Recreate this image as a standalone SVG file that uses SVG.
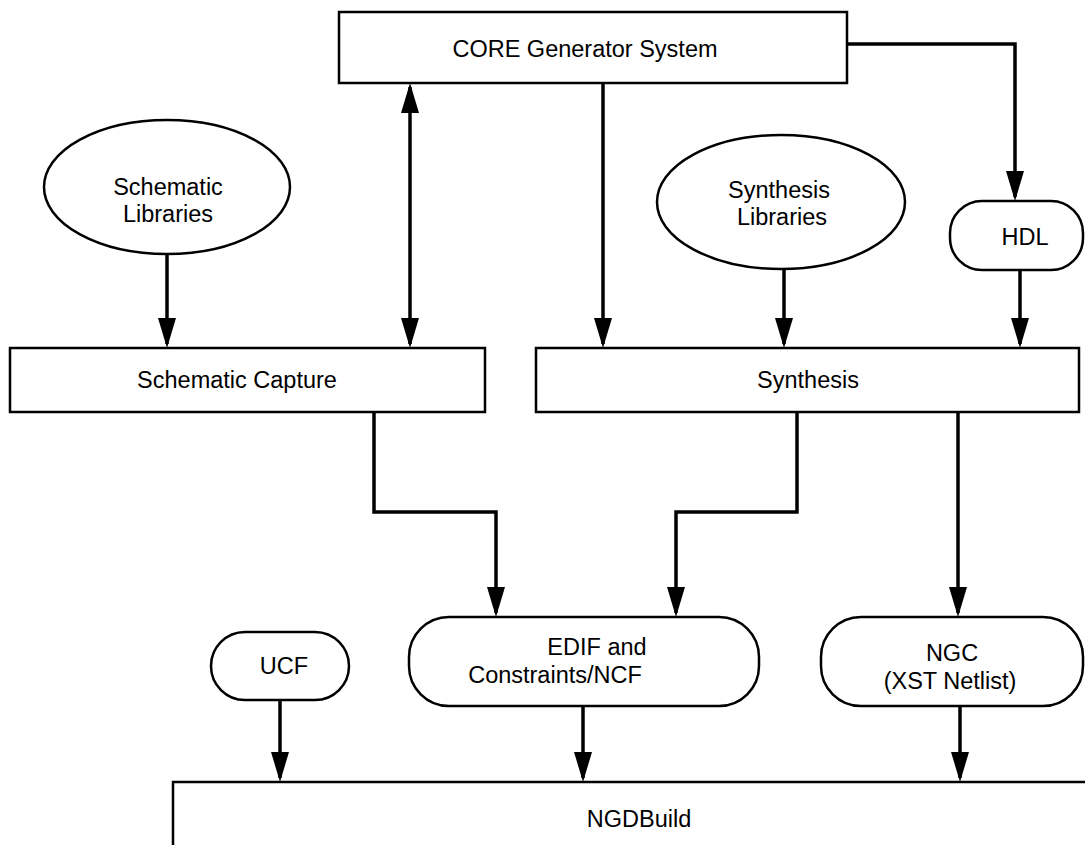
<svg xmlns="http://www.w3.org/2000/svg" width="1085" height="845" viewBox="0 0 1085 845">
<defs>
<style>
.box{fill:#fff;stroke:#000;stroke-width:2.5}
.t{font-family:"Liberation Sans",Arial,sans-serif;font-size:23.5px;fill:#000;text-anchor:middle}
.c{fill:none;stroke:#000;stroke-width:3.5}
</style>
<marker id="ah" markerUnits="userSpaceOnUse" viewBox="0 0 30 18" markerWidth="30" markerHeight="18" refX="26" refY="9" orient="auto-start-reverse">
<path d="M0,0 L30,9 L0,18 z" fill="#000"/>
</marker>
</defs>
<rect width="1085" height="845" fill="#fff"/>
<g id="connectors">
<path class="c" d="M167,255 V344" marker-end="url(#ah)"/>
<path class="c" d="M410,87 V344" marker-start="url(#ah)" marker-end="url(#ah)"/>
<path class="c" d="M603,83 V344" marker-end="url(#ah)"/>
<path class="c" d="M784,270 V344" marker-end="url(#ah)"/>
<path class="c" d="M847,44 H1015 V197" marker-end="url(#ah)"/>
<path class="c" d="M1020,270 V344" marker-end="url(#ah)"/>
<path class="c" d="M374,412 V512 H496 V613" marker-end="url(#ah)"/>
<path class="c" d="M797,412 V512 H676 V613" marker-end="url(#ah)"/>
<path class="c" d="M958,412 V613" marker-end="url(#ah)"/>
<path class="c" d="M280,700 V778" marker-end="url(#ah)"/>
<path class="c" d="M583,706 V778" marker-end="url(#ah)"/>
<path class="c" d="M960,706 V778" marker-end="url(#ah)"/>
</g>
<g id="core"><rect class="box" x="339" y="12" width="508" height="71"/><text class="t" x="585" y="57">CORE Generator System</text></g>
<g id="schlib"><ellipse class="box" cx="167" cy="187" rx="123" ry="67"/><text class="t" x="168" y="195">Schematic</text><text class="t" x="168" y="222">Libraries</text></g>
<g id="synlib"><ellipse class="box" cx="781" cy="202" rx="124" ry="67"/><text class="t" x="779" y="198">Synthesis</text><text class="t" x="782" y="225">Libraries</text></g>
<g id="hdl"><rect class="box" x="950" y="201" width="133" height="69" rx="32"/><text class="t" x="1025" y="245">HDL</text></g>
<g id="schcap"><rect class="box" x="10" y="348" width="475" height="64"/><text class="t" x="237" y="388">Schematic Capture</text></g>
<g id="synth"><rect class="box" x="536" y="348" width="543" height="64"/><text class="t" x="808" y="388">Synthesis</text></g>
<g id="ucf"><rect class="box" x="211" y="632" width="138" height="68" rx="34"/><text class="t" x="284" y="674">UCF</text></g>
<g id="edif"><rect class="box" x="409" y="617" width="350" height="89" rx="40"/><text class="t" x="597" y="655">EDIF and</text><text class="t" x="555" y="683">Constraints/NCF</text></g>
<g id="ngc"><rect class="box" x="821" y="617" width="262" height="89" rx="40"/><text class="t" x="952" y="661">NGC</text><text class="t" x="950" y="689">(XST Netlist)</text></g>
<g id="ngdbuild"><rect class="box" x="173" y="782" width="920" height="70"/><text class="t" x="639" y="827">NGDBuild</text></g>
</svg>
